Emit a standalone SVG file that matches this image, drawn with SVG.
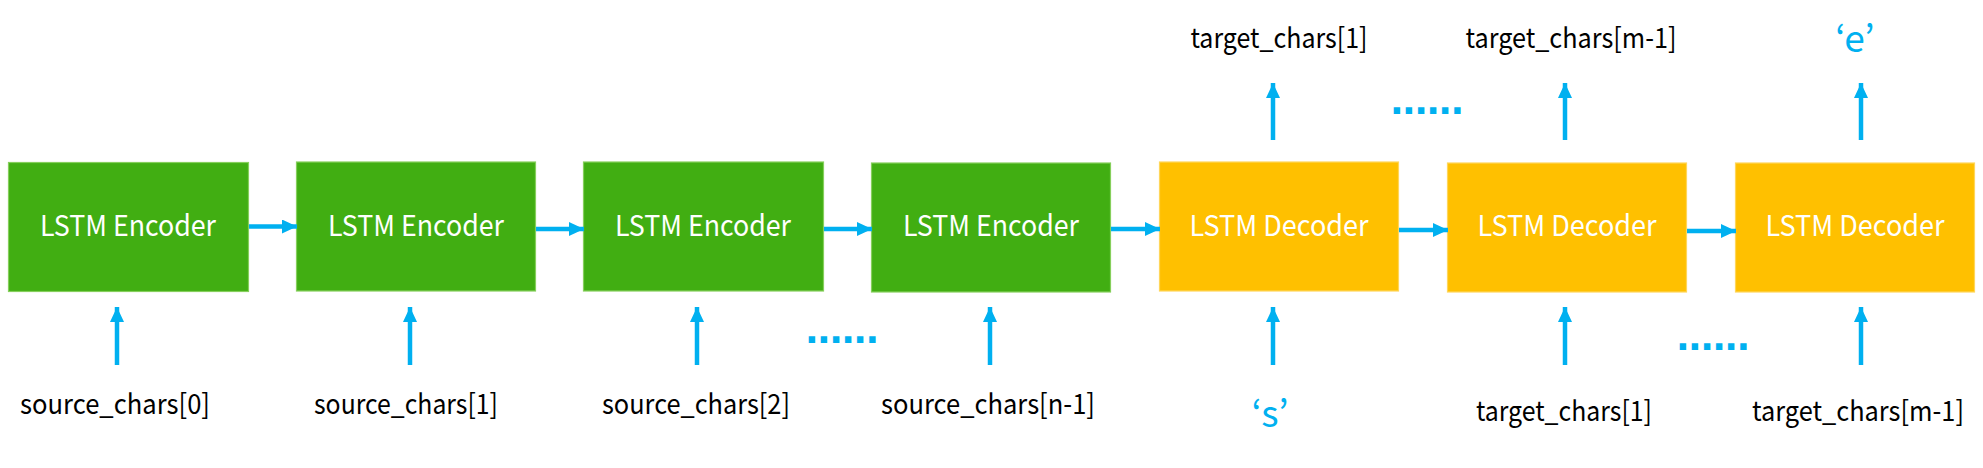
<svg xmlns="http://www.w3.org/2000/svg" width="1983" height="468" viewBox="0 0 1983 468">
<style>
.enc{fill:#41AE12;stroke:#86CF5C;stroke-width:1.2}
.dec{fill:#FFC000;stroke:#FFD65A;stroke-width:1.2}
.bt{font-family:"Noto Sans CJK KR","Noto Sans",sans-serif;font-size:29px;fill:#FFFFFF;text-anchor:middle}
.lb{font-family:"Noto Sans CJK KR","Noto Sans",sans-serif;font-size:28px;fill:#000000;text-anchor:middle}
.q{font-family:"Noto Sans CJK KR","Noto Sans",sans-serif;font-size:37px;fill:#00B0F0;text-anchor:middle}
.dots{font-family:"DejaVu Sans",sans-serif;font-weight:bold;font-size:36px;fill:#00B0F0}
.ar{stroke:#00B0F0;stroke-width:4.5;fill:none;marker-end:url(#ah)}
</style>
<defs>
<marker id="ah" viewBox="0 0 15 14" refX="15" refY="7" markerWidth="15" markerHeight="14" markerUnits="userSpaceOnUse" orient="auto">
<path d="M0,0 L15,7 L0,14 Z" fill="#00B0F0"/>
</marker>
</defs>
<rect width="1983" height="468" fill="#FFFFFF"/>
<g id="enc1"><rect class="enc" x="8.5" y="162.5" width="240" height="129"/><text class="bt" x="128" y="236" textLength="176" lengthAdjust="spacingAndGlyphs">LSTM Encoder</text></g>
<g id="enc2"><rect class="enc" x="296.5" y="162" width="239" height="129"/><text class="bt" x="416" y="236" textLength="176" lengthAdjust="spacingAndGlyphs">LSTM Encoder</text></g>
<g id="enc3"><rect class="enc" x="583.5" y="162" width="240" height="129"/><text class="bt" x="703" y="236" textLength="176" lengthAdjust="spacingAndGlyphs">LSTM Encoder</text></g>
<g id="enc4"><rect class="enc" x="871.5" y="163" width="239" height="129"/><text class="bt" x="991" y="236" textLength="176" lengthAdjust="spacingAndGlyphs">LSTM Encoder</text></g>
<g id="dec1"><rect class="dec" x="1159.5" y="162" width="239" height="129"/><text class="bt" x="1279" y="236" textLength="179" lengthAdjust="spacingAndGlyphs">LSTM Decoder</text></g>
<g id="dec2"><rect class="dec" x="1447.5" y="163" width="239" height="129"/><text class="bt" x="1567" y="236" textLength="179" lengthAdjust="spacingAndGlyphs">LSTM Decoder</text></g>
<g id="dec3"><rect class="dec" x="1735.5" y="163" width="239" height="129"/><text class="bt" x="1855" y="236" textLength="179" lengthAdjust="spacingAndGlyphs">LSTM Decoder</text></g>
<g id="labels">
<text class="lb" x="115" y="414" textLength="190" lengthAdjust="spacingAndGlyphs">source_chars[0]</text>
<text class="lb" x="406" y="414" textLength="184" lengthAdjust="spacingAndGlyphs">source_chars[1]</text>
<text class="lb" x="696" y="414" textLength="188" lengthAdjust="spacingAndGlyphs">source_chars[2]</text>
<text class="lb" x="988" y="414" textLength="214" lengthAdjust="spacingAndGlyphs">source_chars[n-1]</text>
<text class="q" x="1270" y="427">‘s’</text>
<text class="lb" x="1564" y="421" textLength="176" lengthAdjust="spacingAndGlyphs">target_chars[1]</text>
<text class="lb" x="1858" y="421" textLength="212" lengthAdjust="spacingAndGlyphs">target_chars[m-1]</text>
<text class="lb" x="1279" y="48" textLength="177" lengthAdjust="spacingAndGlyphs">target_chars[1]</text>
<text class="lb" x="1571" y="48" textLength="211" lengthAdjust="spacingAndGlyphs">target_chars[m-1]</text>
<text class="q" x="1855" y="52">‘e’</text>
<text class="dots" x="805" y="343" letter-spacing="-1.6">......</text>
<text class="dots" x="1390" y="114" letter-spacing="-1.6">......</text>
<text class="dots" x="1676" y="350" letter-spacing="-1.6">......</text>
</g>
<g id="connectors">
<line class="ar" x1="249" y1="226.5" x2="297" y2="226.5"/>
<line class="ar" x1="536" y1="229" x2="584" y2="229"/>
<line class="ar" x1="824" y1="229" x2="872" y2="229"/>
<line class="ar" x1="1111" y1="229" x2="1160" y2="229"/>
<line class="ar" x1="1399" y1="230" x2="1448" y2="230"/>
<line class="ar" x1="1687" y1="231" x2="1736" y2="231"/>
<line class="ar" x1="117" y1="365" x2="117" y2="307"/>
<line class="ar" x1="410" y1="365" x2="410" y2="307"/>
<line class="ar" x1="697" y1="365" x2="697" y2="307"/>
<line class="ar" x1="990" y1="365" x2="990" y2="307"/>
<line class="ar" x1="1273" y1="365" x2="1273" y2="307"/>
<line class="ar" x1="1565" y1="365" x2="1565" y2="307"/>
<line class="ar" x1="1861" y1="365" x2="1861" y2="307"/>
<line class="ar" x1="1273" y1="140" x2="1273" y2="83"/>
<line class="ar" x1="1565" y1="140" x2="1565" y2="83"/>
<line class="ar" x1="1861" y1="140" x2="1861" y2="83"/>
</g>
</svg>
